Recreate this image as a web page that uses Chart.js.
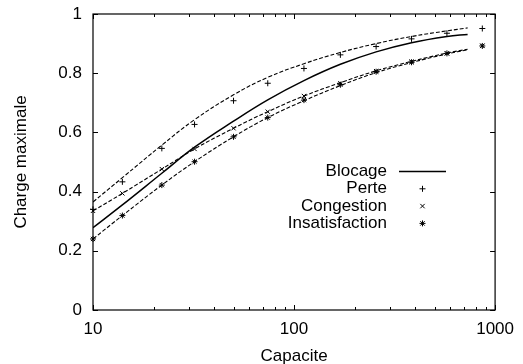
<!DOCTYPE html>
<html lang="fr">
<head>
<meta charset="UTF-8">
<title>Charge maximale</title>
<script src="https://cdn.jsdelivr.net/npm/chart.js"></script>
<style>
  html, body { margin: 0; padding: 0; background: #fff; }
  #zone { width: 523px; height: 364px; }
</style>
</head>
<body>
<div id="zone"><canvas id="grafico"></canvas></div>
<script>
// mesures (points)
const capacites = [10, 14, 22, 32, 50, 74, 112, 170, 256, 384, 576, 864];
const perte = [0.34, 0.433, 0.546, 0.627, 0.707, 0.766, 0.816, 0.862, 0.890, 0.916, 0.935, 0.951];
const congestion = [0.335, 0.394, 0.476, 0.544, 0.614, 0.670, 0.723, 0.766, 0.807, 0.839, 0.867, 0.893];
const insatisfaction = [0.24, 0.319, 0.422, 0.501, 0.585, 0.650, 0.709, 0.761, 0.805, 0.837, 0.867, 0.892];

// courbes (blocage + ajustements en pointille)
const courbeX = [10, 14, 22, 32, 50, 74, 112, 170, 256, 384, 576, 730];
const blocage = [0.278, 0.355, 0.462, 0.55, 0.638, 0.71, 0.775, 0.83, 0.872, 0.903, 0.924, 0.931];
const ajustPerte = [0.365, 0.447, 0.557, 0.643, 0.727, 0.786, 0.832, 0.870, 0.900, 0.924, 0.943, 0.953];
const ajustCongestion = [0.335, 0.394, 0.476, 0.544, 0.614, 0.670, 0.723, 0.768, 0.808, 0.840, 0.868, 0.881];
const ajustInsatisfaction = [0.24, 0.319, 0.422, 0.501, 0.585, 0.650, 0.707, 0.758, 0.802, 0.836, 0.865, 0.879];

// graduations
const ticksX = [10, 100, 1000];
const ticksMinX = [20, 30, 40, 50, 60, 70, 80, 90, 200, 300, 400, 500, 600, 700, 800, 900];
const ticksY = [0, 0.2, 0.4, 0.6, 0.8, 1];

const legende = [
    { texte: 'Blocage', style: 'ligne' },
    { texte: 'Perte', style: 'cross' },
    { texte: 'Congestion', style: 'crossRot' },
    { texte: 'Insatisfaction', style: 'star' }
];

const pts = (xs, ys) => xs.map((x, i) => ({ x: x, y: ys[i] }));

Chart.defaults.font.family = '"Liberation Sans", Arial, sans-serif';
Chart.defaults.font.size = 17;
Chart.defaults.color = '#000';

function marque(ctx, style, x, y) {
    ctx.save();
    ctx.strokeStyle = '#000';
    ctx.lineWidth = 1;
    ctx.beginPath();
    if (style === 'cross' || style === 'star') {
        ctx.moveTo(x - 3, y); ctx.lineTo(x + 3, y);
        ctx.moveTo(x, y - 3); ctx.lineTo(x, y + 3);
    }
    if (style === 'crossRot' || style === 'star') {
        ctx.moveTo(x - 2.2, y - 2.2); ctx.lineTo(x + 2.2, y + 2.2);
        ctx.moveTo(x - 2.2, y + 2.2); ctx.lineTo(x + 2.2, y - 2.2);
    }
    ctx.stroke();
    ctx.restore();
}

const cadre = {
    id: 'cadre',
    afterDraw(chart) {
        const ctx = chart.ctx;
        const a = chart.chartArea;
        const sx = chart.scales.x, sy = chart.scales.y;
        ctx.save();
        ctx.strokeStyle = '#000';
        ctx.lineWidth = 1.2;
        ctx.strokeRect(a.left, a.top, a.right - a.left, a.bottom - a.top);
        ctx.lineWidth = 1;
        ctx.beginPath();
        ticksY.forEach(v => {
            const p = Math.round(sy.getPixelForValue(v)) + 0.5;
            ctx.moveTo(a.left, p); ctx.lineTo(a.left + 5, p);
            ctx.moveTo(a.right, p); ctx.lineTo(a.right - 5, p);
        });
        ticksX.forEach(v => {
            const p = Math.round(sx.getPixelForValue(v)) + 0.5;
            ctx.moveTo(p, a.bottom); ctx.lineTo(p, a.bottom - 5);
            ctx.moveTo(p, a.top); ctx.lineTo(p, a.top + 5);
        });
        ticksMinX.forEach(v => {
            const p = Math.round(sx.getPixelForValue(v)) + 0.5;
            ctx.moveTo(p, a.bottom); ctx.lineTo(p, a.bottom - 3);
            ctx.moveTo(p, a.top); ctx.lineTo(p, a.top + 3);
        });
        ctx.stroke();

        // legende facon gnuplot
        ctx.font = '17px "Liberation Sans", Arial, sans-serif';
        ctx.fillStyle = '#000';
        ctx.textAlign = 'right';
        ctx.textBaseline = 'middle';
        legende.forEach((e, i) => {
            const y = 171.5 + i * 17.3;
            ctx.fillText(e.texte, 387, y);
            if (e.style === 'ligne') {
                ctx.lineWidth = 1.4;
                ctx.beginPath();
                ctx.moveTo(399, y); ctx.lineTo(446, y);
                ctx.stroke();
            } else {
                marque(ctx, e.style, 422.5, y);
            }
        });
        ctx.restore();
    }
};

const courbe = (donnees, dash, largeur) => ({
    data: donnees,
    borderColor: '#000',
    borderWidth: largeur,
    borderDash: dash,
    pointRadius: 0,
    tension: 0.4,
    fill: false
});

const nuage = (donnees, style, rayon) => ({
    data: donnees,
    showLine: false,
    pointStyle: style,
    pointRadius: rayon,
    pointBorderColor: '#000',
    pointBorderWidth: 1,
    clip: false
});

new Chart(document.getElementById('grafico'), {
    type: 'line',
    data: {
        datasets: [
            courbe(pts(courbeX, blocage), [], 1.5),
            courbe(pts(courbeX, ajustPerte), [4, 2], 1.1),
            courbe(pts(courbeX, ajustCongestion), [4, 2], 1.1),
            courbe(pts(courbeX, ajustInsatisfaction), [4, 2], 1.1),
            nuage(pts(capacites, perte), 'cross', 3),
            nuage(pts(capacites, congestion), 'crossRot', 3),
            nuage(pts(capacites, insatisfaction), 'star', 3)
        ]
    },
    options: {
        responsive: true,
        maintainAspectRatio: false,
        animation: false,
        layout: { padding: { left: 0, right: 21, top: 14, bottom: 0 } },
        plugins: { legend: { display: false }, tooltip: { enabled: false } },
        scales: {
            x: {
                type: 'logarithmic',
                min: 10,
                max: 1000,
                afterBuildTicks: s => { s.ticks = ticksX.map(v => ({ value: v })); },
                afterFit: s => { s.height = 54; },
                ticks: { padding: 9, maxRotation: 0, autoSkip: false, callback: v => String(v) },
                grid: { display: true, drawOnChartArea: false, drawTicks: false, color: 'rgba(0,0,0,0)' },
                border: { display: false },
                title: { display: true, text: 'Capacite', font: { size: 17, lineHeight: 1 }, padding: { top: 0, bottom: -1 } }
            },
            y: {
                min: 0,
                max: 1,
                afterBuildTicks: s => { s.ticks = ticksY.map(v => ({ value: v })); },
                afterFit: s => { s.width = 93; s.paddingTop = 0; s.paddingBottom = 0; },
                ticks: { padding: 11, callback: v => String(v) },
                grid: { display: true, drawOnChartArea: false, drawTicks: false, color: 'rgba(0,0,0,0)' },
                border: { display: false },
                title: { display: true, text: 'Charge maximale', font: { size: 17, lineHeight: 1 }, padding: { top: 13, bottom: 0 } }
            }
        }
    },
    plugins: [cadre]
});
</script>
</body>
</html>
